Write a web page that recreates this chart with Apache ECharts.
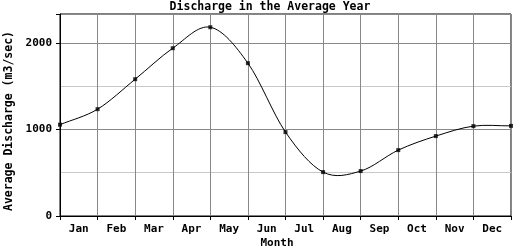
<!DOCTYPE html>
<html>
<head>
<meta charset="utf-8">
<script src="https://cdn.jsdelivr.net/npm/echarts@6/dist/echarts.min.js"></script>
<style>
html,body{margin:0;padding:0;background:#ffffff;}
#c{width:520px;height:250px;}
</style>
</head>
<body>
<div id="c"></div>
<script>
const months = ['Jan','Feb','Mar','Apr','May','Jun','Jul','Aug','Sep','Oct','Nov','Dec'];
const pointX = [0,1,2,3,4,5,6,7,8,9,10,11,12];
const discharge = [1055,1234,1580,1938,2180,1765,969,507,519,761,923,1038,1041];
const yTicks = [0,1000,2000];
const titleText = 'Discharge in the Average Year';
const xName = 'Month';
const yName = 'Average Discharge (m3/sec)';

const FONT = 'DejaVu Sans Mono';
const chart = echarts.init(document.getElementById('c'), null, {renderer:'canvas'});

// Catmull-Rom segment drawn through the library's coordinate system
function renderSegment(params, api){
  const i = params.dataIndex;
  const n = pointX.length;
  if (i >= n-1) return null;
  const P = pointX.map((x,k)=>api.coord([x, discharge[k]]));
  function tan(k){
    const a = P[Math.max(k-1,0)], b = P[Math.min(k+1,n-1)];
    const d = (k===0 || k===n-1) ? 1 : 2;
    return [(b[0]-a[0])/d, (b[1]-a[1])/d];
  }
  const p0 = P[i], p1 = P[i+1], m0 = tan(i), m1 = tan(i+1);
  return {
    type:'bezierCurve',
    shape:{x1:p0[0],y1:p0[1],x2:p1[0],y2:p1[1],
           cpx1:p0[0]+m0[0]/3,cpy1:p0[1]+m0[1]/3,
           cpx2:p1[0]-m1[0]/3,cpy2:p1[1]-m1[1]/3},
    style:{stroke:'#000',fill:null,lineWidth:1}
  };
}

chart.setOption({
  backgroundColor:'#ffffff',
  animation:false,
  grid:{left:60,right:9,top:14,bottom:34,show:true,borderColor:'#000',borderWidth:1,backgroundColor:'transparent'},
  graphic:[
    {type:'text',x:270,y:1,style:{text:titleText,font:'bold 11.5px "DejaVu Sans Mono"',fill:'#000',align:'center',verticalAlign:'top'}},
    {type:'text',x:277,y:238,style:{text:xName,font:'bold 11px "DejaVu Sans Mono"',fill:'#000',align:'center',verticalAlign:'top'}},
    {type:'text',x:9,y:121,rotation:Math.PI/2,style:{text:yName,font:'bold 11.5px "DejaVu Sans Mono"',fill:'#000',align:'center',verticalAlign:'middle'}}
  ],
  xAxis:[
    {type:'value',min:0,max:12,interval:1,position:'bottom',
     axisLine:{show:true,lineStyle:{color:'#000',width:1}},
     axisTick:{show:true,length:4,lineStyle:{color:'#000'}},
     axisLabel:{show:false},
     splitLine:{show:true,lineStyle:{color:'#888',width:1}}},
    {type:'category',data:months,boundaryGap:true,position:'bottom',
     axisLine:{show:false},axisTick:{show:false},splitLine:{show:false},
     axisLabel:{show:true,margin:8,color:'#000',fontFamily:FONT,fontWeight:'bold',fontSize:11,interval:0}}
  ],
  yAxis:{type:'value',min:0,max:2333,interval:1000,
     axisLine:{show:true,lineStyle:{color:'#000'}},
     axisTick:{show:true,length:4,lineStyle:{color:'#000'}},
     axisLabel:{margin:8,color:'#000',fontFamily:FONT,fontWeight:'bold',fontSize:11,
       formatter:function(v){return yTicks.indexOf(v)>=0?String(v):'';}},
     splitLine:{show:true,lineStyle:{color:'#888',width:1}},
     minorTick:{show:false,splitNumber:2},
     minorSplitLine:{show:true,lineStyle:{color:'#c8c8c8',width:1}}},
  series:[
    {type:'custom',xAxisIndex:0,renderItem:renderSegment,
     data:pointX.map((x,i)=>[x,discharge[i]]),clip:false,z:2},
    {type:'scatter',xAxisIndex:0,
     data:pointX.map((x,i)=>[x,discharge[i]]),
     symbol:'rect',symbolSize:4,itemStyle:{color:'#000'},z:3}
  ]
});
</script>
</body>
</html>
